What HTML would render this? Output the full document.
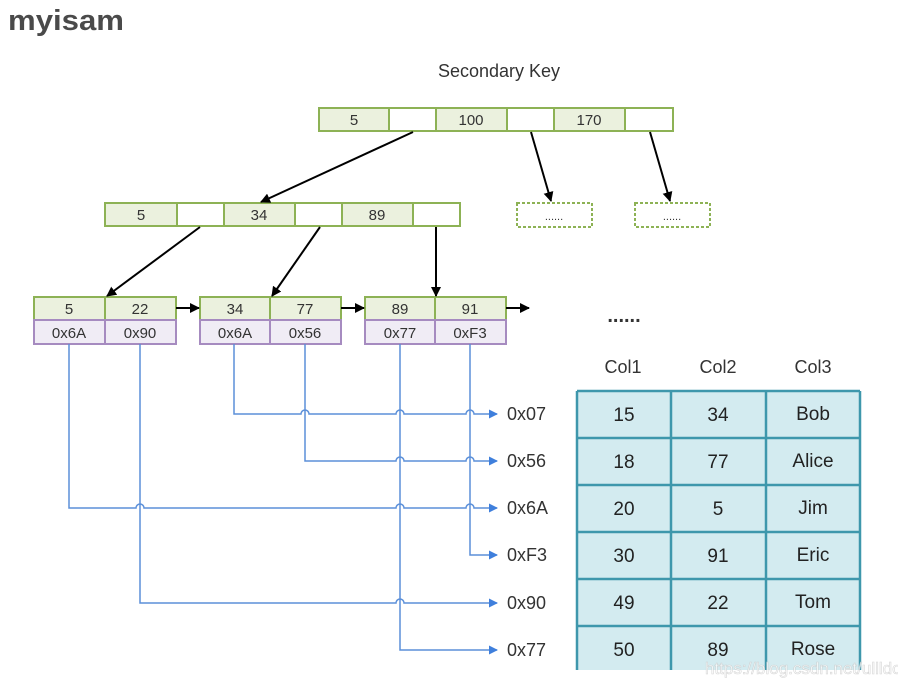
<!DOCTYPE html>
<html><head><meta charset="utf-8"><style>
html,body{margin:0;padding:0;background:#fff;width:898px;height:688px;overflow:hidden}
svg{display:block;font-family:"Liberation Sans",sans-serif}
</style></head><body>
<svg width="898" height="688" viewBox="0 0 898 688" xmlns="http://www.w3.org/2000/svg">
<defs>
<marker id="ak" markerWidth="10" markerHeight="10" refX="9" refY="5" orient="auto" markerUnits="userSpaceOnUse"><path d="M0,0 L10,5 L0,10 z" fill="#000"/></marker>
<marker id="ab" markerWidth="9" markerHeight="9" refX="8" refY="4.5" orient="auto" markerUnits="userSpaceOnUse"><path d="M0,0 L9,4.5 L0,9 z" fill="#3f7fdc"/></marker>
</defs>
<text x="8" y="30" font-size="29" font-weight="bold" fill="#4a4a4a" textLength="116" lengthAdjust="spacingAndGlyphs">myisam</text>
<text x="499" y="77" font-size="18" fill="#333" text-anchor="middle">Secondary Key</text>

<g stroke="#8db255" stroke-width="2" font-size="15">
<rect x="319" y="108" width="70" height="23" fill="#ebf1de"/><rect x="389" y="108" width="47" height="23" fill="#fff"/>
<rect x="436" y="108" width="71" height="23" fill="#ebf1de"/><rect x="507" y="108" width="47" height="23" fill="#fff"/>
<rect x="554" y="108" width="71" height="23" fill="#ebf1de"/><rect x="625" y="108" width="48" height="23" fill="#fff"/>
<rect x="105" y="203" width="72" height="23" fill="#ebf1de"/><rect x="177" y="203" width="47" height="23" fill="#fff"/>
<rect x="224" y="203" width="71" height="23" fill="#ebf1de"/><rect x="295" y="203" width="47" height="23" fill="#fff"/>
<rect x="342" y="203" width="71" height="23" fill="#ebf1de"/><rect x="413" y="203" width="47" height="23" fill="#fff"/>
<rect x="517" y="203" width="75" height="24" fill="#fff" stroke-dasharray="3,2"/>
<rect x="635" y="203" width="75" height="24" fill="#fff" stroke-dasharray="3,2"/>
<rect x="34" y="297" width="71" height="23" fill="#ebf1de"/><rect x="105" y="297" width="71" height="23" fill="#ebf1de"/>
<rect x="200" y="297" width="70" height="23" fill="#ebf1de"/><rect x="270" y="297" width="71" height="23" fill="#ebf1de"/>
<rect x="365" y="297" width="70" height="23" fill="#ebf1de"/><rect x="435" y="297" width="71" height="23" fill="#ebf1de"/>
</g>
<g stroke="#a68bc0" stroke-width="2" fill="#f0ecf5">
<rect x="34" y="320" width="71" height="24"/><rect x="105" y="320" width="71" height="24"/>
<rect x="200" y="320" width="70" height="24"/><rect x="270" y="320" width="71" height="24"/>
<rect x="365" y="320" width="70" height="24"/><rect x="435" y="320" width="71" height="24"/>
</g>
<g font-size="15" fill="#333" text-anchor="middle">
<text x="354" y="125">5</text><text x="471" y="125">100</text><text x="589" y="125">170</text>
<text x="141" y="220">5</text><text x="259" y="220">34</text><text x="377" y="220">89</text>
<text x="554" y="220" font-size="11">......</text><text x="672" y="220" font-size="11">......</text>
<text x="69" y="314">5</text><text x="140" y="314">22</text><text x="235" y="314">34</text><text x="305" y="314">77</text><text x="400" y="314">89</text><text x="470" y="314">91</text>
<text x="69" y="338">0x6A</text><text x="140" y="338">0x90</text><text x="235" y="338">0x6A</text><text x="305" y="338">0x56</text><text x="400" y="338">0x77</text><text x="470" y="338">0xF3</text>
<text x="624" y="322" font-size="20" font-weight="bold">......</text>
</g>
<g stroke="#000" stroke-width="2" marker-end="url(#ak)">
<line x1="413" y1="132" x2="261" y2="202"/>
<line x1="531" y1="132" x2="551" y2="201"/>
<line x1="650" y1="132" x2="670" y2="201"/>
<line x1="200" y1="227" x2="107" y2="296"/>
<line x1="320" y1="227" x2="272" y2="296"/>
<line x1="436" y1="227" x2="436" y2="296"/>
<line x1="176" y1="308" x2="199" y2="308"/>
<line x1="341" y1="308" x2="364" y2="308"/>
<line x1="506" y1="308" x2="529" y2="308"/>
</g>
<g stroke="#5b8fd9" stroke-width="1.5" fill="none" marker-end="url(#ab)">
<path d="M234,344 V414 H301 a4,4 0 0 1 8,0 H396 a4,4 0 0 1 8,0 H466 a4,4 0 0 1 8,0 H497"/>
<path d="M305,344 V461 H396 a4,4 0 0 1 8,0 H466 a4,4 0 0 1 8,0 H497"/>
<path d="M69,344 V508 H136 a4,4 0 0 1 8,0 H396 a4,4 0 0 1 8,0 H466 a4,4 0 0 1 8,0 H497"/>
<path d="M470,344 V555 H497"/>
<path d="M140,344 V603 H396 a4,4 0 0 1 8,0 H497"/>
<path d="M400,344 V650 H497"/>
</g>
<g font-size="18" fill="#333">
<text x="507" y="420">0x07</text><text x="507" y="467">0x56</text><text x="507" y="514">0x6A</text>
<text x="507" y="561">0xF3</text><text x="507" y="609">0x90</text><text x="507" y="656">0x77</text>
</g>
<g font-size="18" fill="#333" text-anchor="middle">
<text x="623" y="373">Col1</text><text x="718" y="373">Col2</text><text x="813" y="373">Col3</text>
</g>
<rect x="577" y="391" width="283" height="290" fill="#d3ebf0"/>
<g stroke="#3e97ac" stroke-width="2.5">
<line x1="577" y1="391" x2="577" y2="670"/><line x1="671" y1="391" x2="671" y2="670"/><line x1="766" y1="391" x2="766" y2="670"/><line x1="860" y1="391" x2="860" y2="670"/>
<line x1="577" y1="391" x2="860" y2="391"/><line x1="577" y1="438" x2="860" y2="438"/><line x1="577" y1="485" x2="860" y2="485"/><line x1="577" y1="532" x2="860" y2="532"/><line x1="577" y1="579" x2="860" y2="579"/><line x1="577" y1="626" x2="860" y2="626"/>
</g>
<rect x="575" y="670" width="290" height="18" fill="#fff"/>
<g font-size="19" fill="#222" text-anchor="middle">
<text x="624" y="421">15</text><text x="718" y="421">34</text><text x="813" y="420">Bob</text>
<text x="624" y="468">18</text><text x="718" y="468">77</text><text x="813" y="467">Alice</text>
<text x="624" y="515">20</text><text x="718" y="515">5</text><text x="813" y="514">Jim</text>
<text x="624" y="562">30</text><text x="718" y="562">91</text><text x="813" y="561">Eric</text>
<text x="624" y="609">49</text><text x="718" y="609">22</text><text x="813" y="608">Tom</text>
<text x="624" y="656">50</text><text x="718" y="656">89</text><text x="813" y="655">Rose</text>
</g>
<text x="705" y="674" font-size="17" fill="#fff" stroke="#ccc" stroke-width="0.6" opacity="0.8">https://blog.csdn.net/ullldo</text>
</svg>
</body></html>
